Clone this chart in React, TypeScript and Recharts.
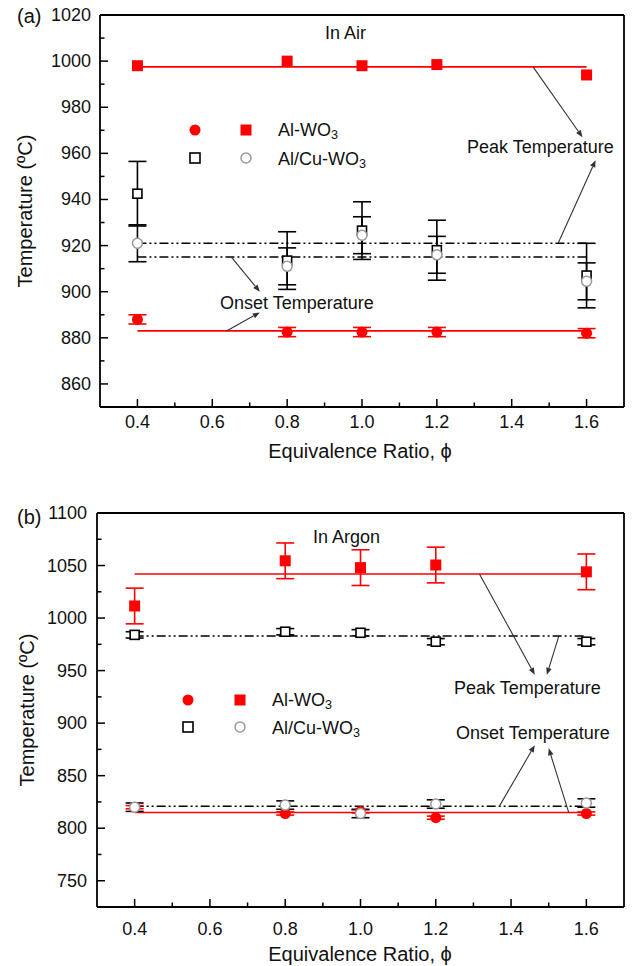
import { ComposedChart, Scatter, Line, XAxis, YAxis, ErrorBar, ReferenceLine } from 'recharts';

const FONT = 'Arial, "Liberation Sans", Helvetica, sans-serif';

// equivalence ratio values shared by both panels
const phi = [0.4, 0.8, 1.0, 1.2, 1.6];
const fitPhi = [0.4, 1.6];
const xMajor = [0.4, 0.6, 0.8, 1.0, 1.2, 1.4, 1.6];
const xMinor = [0.5, 0.7, 0.9, 1.1, 1.3, 1.5];

// (a) In Air
const airYMajor = [860, 880, 900, 920, 940, 960, 980, 1000, 1020];
const airYMinor = [870, 890, 910, 930, 950, 970, 990, 1010];
const airPeakAl = [998, 1000, 998, 998.5, 994];
const airPeakAlErr = [0, 0, 0, 0, 0];
const airOnsetAl = [888, 882.5, 882.5, 882.5, 882];
const airOnsetAlErr = [2, 2, 2, 2, 2];
const airPeakAlCu = [942.5, 913.5, 926.5, 918, 907];
const airPeakAlCuErr = [14, 12.5, 12.5, 13, 14];
const airOnsetAlCu = [921, 911, 924.5, 916, 904.5];
const airOnsetAlCuErr = [8, 8, 8, 8, 8];
const airFits = { peakAl: 997.5, onsetAl: 883, peakAlCu: 921, onsetAlCu: 915 };

// (b) In Argon
const argYMajor = [750, 800, 850, 900, 950, 1000, 1050, 1100];
const argYMinor = [775, 825, 875, 925, 975, 1025, 1075];
const argPeakAl = [1011.5, 1054.5, 1048, 1050.5, 1044];
const argPeakAlErr = [17, 17, 17, 17, 17];
const argOnsetAl = [820, 814, 816, 810, 814];
const argOnsetAlErr = [1.5, 1.5, 1.5, 1.5, 1.5];
const argPeakAlCu = [984, 987, 986, 977.5, 977.5];
const argPeakAlCuErr = [3, 3, 3, 3, 3];
const argOnsetAlCu = [820, 822, 814, 823, 824];
const argOnsetAlCuErr = [4, 4, 4, 4, 4];
const argFits = { peakAl: 1042, onsetAl: 815, peakAlCu: 983, onsetAlCu: 821 };

// annotation arrows, in data coordinates [x1, y1, x2, y2]
const airArrows = [
  [1.457, 997.5, 1.589, 967],
  [1.524, 921, 1.624, 957],
  [0.651, 915, 0.727, 900],
  [0.638, 883, 0.727, 891],
];
const argArrows = [
  [1.316, 1042, 1.463, 946],
  [1.527, 983, 1.495, 946],
  [1.369, 821, 1.463, 879],
  [1.553, 815, 1.5, 876],
];

const pts = (ys: number[], errs: number[]) => phi.map((x, i) => ({ x, y: ys[i], err: errs[i] }));
const fit = (v: number) => fitPhi.map((x) => ({ x, y: v }));

const near = (list: number[], v: number) => list.some((t) => Math.abs(t - v) < 1e-6);

const RedSquare = (p: any) => <rect x={p.cx - 5.5} y={p.cy - 5.5} width={11} height={11} fill="#ff0000" />;
const RedCircle = (p: any) => <circle cx={p.cx} cy={p.cy} r={5.5} fill="#ff0000" />;
const OpenSquare = (p: any) => (
  <rect x={p.cx - 4.5} y={p.cy - 4.5} width={9} height={9} fill="#fff" stroke="#000" strokeWidth={1.6} />
);
const GrayCircle = (p: any) => (
  <circle cx={p.cx} cy={p.cy} r={5} fill="#fff" stroke="#999" strokeWidth={1.5} />
);

const Arrow = (p: any) => {
  const { x1, y1, x2, y2 } = p;
  const a = Math.atan2(y2 - y1, x2 - x1);
  const L = 7;
  const W = 2.8;
  const bx = x2 - L * Math.cos(a);
  const by = y2 - L * Math.sin(a);
  const s = Math.sin(a);
  const c = Math.cos(a);
  return (
    <g>
      <line x1={x1} y1={y1} x2={bx} y2={by} stroke="#333" strokeWidth={1.1} />
      <polygon points={`${x2},${y2} ${bx + W * s},${by - W * c} ${bx - W * s},${by + W * c}`} fill="#333" />
    </g>
  );
};

const xTick = (labelDy: number) => (props: any) => {
  const { x, y, payload } = props;
  const v = payload.value;
  const major = near(xMajor, v);
  return (
    <g>
      <line x1={x} x2={x} y1={y} y2={y - (major ? 8 : 4.5)} stroke="#000" strokeWidth={1.5} />
      {major ? (
        <text x={x} y={y + labelDy} textAnchor="middle" dominantBaseline="central" fontSize={18} fontFamily={FONT} fill="#111">
          {v.toFixed(1)}
        </text>
      ) : null}
    </g>
  );
};

const yTick = (majors: number[], gap: number) => (props: any) => {
  const { x, y, payload } = props;
  const v = payload.value;
  const major = near(majors, v);
  return (
    <g>
      <line x1={x} x2={x + (major ? 8 : 4.5)} y1={y} y2={y} stroke="#000" strokeWidth={1.5} />
      {major ? (
        <text x={x - gap} y={y} textAnchor="end" dominantBaseline="central" fontSize={18} fontFamily={FONT} fill="#111">
          {v}
        </text>
      ) : null}
    </g>
  );
};

const DASH = '9 3 2 3 2 3';

interface PanelProps {
  top: number;
  height: number;
  marginTop: number;
  yWidth: number;
  xHeight: number;
  domain: [number, number];
  yMajor: number[];
  yMinor: number[];
  xLabelDy: number;
  yGap: number;
  peakAl: number[];
  peakAlErr: number[];
  onsetAl: number[];
  onsetAlErr: number[];
  peakAlCu: number[];
  peakAlCuErr: number[];
  onsetAlCu: number[];
  onsetAlCuErr: number[];
  fits: { peakAl: number; onsetAl: number; peakAlCu: number; onsetAlCu: number };
  arrows: number[][];
}

function Panel(p: PanelProps) {
  const yTicks = [...p.yMajor, ...p.yMinor].sort((a, b) => a - b);
  const xTicks = [...xMajor, ...xMinor].sort((a, b) => a - b);
  return (
    <div style={{ position: 'absolute', left: 0, top: p.top }}>
      <ComposedChart width={634} height={p.height} margin={{ top: p.marginTop, right: 10, bottom: 0, left: 0 }}>
        <XAxis
          dataKey="x"
          type="number"
          domain={[0.3, 1.7]}
          allowDataOverflow
          ticks={xTicks}
          interval={0}
          height={p.xHeight}
          tickSize={0}
          tickMargin={0}
          tickLine={false}
          tick={xTick(p.xLabelDy)}
          axisLine={{ stroke: '#000', strokeWidth: 1.8 }}
        />
        <YAxis
          dataKey="y"
          type="number"
          domain={p.domain}
          allowDataOverflow
          ticks={yTicks}
          interval={0}
          width={p.yWidth}
          tickSize={0}
          tickMargin={0}
          tickLine={false}
          tick={yTick(p.yMajor, p.yGap)}
          axisLine={{ stroke: '#000', strokeWidth: 1.8 }}
        />
        <ReferenceLine y={p.domain[1]} stroke="#000" strokeWidth={1.8} />
        <ReferenceLine x={1.7} stroke="#000" strokeWidth={1.8} />

        <Line data={fit(p.fits.peakAl)} dataKey="y" stroke="#ff0000" strokeWidth={1.6} dot={false} isAnimationActive={false} />
        <Line data={fit(p.fits.onsetAl)} dataKey="y" stroke="#ff0000" strokeWidth={1.6} dot={false} isAnimationActive={false} />
        <Line data={fit(p.fits.peakAlCu)} dataKey="y" stroke="#000" strokeWidth={1.5} strokeDasharray={DASH} dot={false} isAnimationActive={false} />
        <Line data={fit(p.fits.onsetAlCu)} dataKey="y" stroke="#000" strokeWidth={1.5} strokeDasharray={DASH} dot={false} isAnimationActive={false} />

        <Scatter data={pts(p.peakAl, p.peakAlErr)} shape={RedSquare} isAnimationActive={false}>
          <ErrorBar dataKey="err" direction="y" width={9} stroke="#ff0000" strokeWidth={1.6} />
        </Scatter>
        <Scatter data={pts(p.onsetAl, p.onsetAlErr)} shape={RedCircle} isAnimationActive={false}>
          <ErrorBar dataKey="err" direction="y" width={9} stroke="#ff0000" strokeWidth={1.6} />
        </Scatter>
        <Scatter data={pts(p.peakAlCu, p.peakAlCuErr)} shape={OpenSquare} isAnimationActive={false}>
          <ErrorBar dataKey="err" direction="y" width={9} stroke="#000" strokeWidth={1.6} />
        </Scatter>
        <Scatter data={pts(p.onsetAlCu, p.onsetAlCuErr)} shape={GrayCircle} isAnimationActive={false}>
          <ErrorBar dataKey="err" direction="y" width={9} stroke="#000" strokeWidth={1.6} />
        </Scatter>

        {p.arrows.map((a, i) => (
          <ReferenceLine
            key={i}
            segment={[{ x: a[0], y: a[1] }, { x: a[2], y: a[3] }]}
            ifOverflow="visible"
            shape={Arrow}
          />
        ))}
      </ComposedChart>
    </div>
  );
}

const Txt = ({ left, top, size = 18, center = false, rotate = false, children }: any) => (
  <div
    style={{
      position: 'absolute',
      left,
      top,
      fontSize: size,
      lineHeight: 1,
      whiteSpace: 'nowrap',
      color: '#111',
      transform: rotate
        ? 'translate(-50%,-50%) rotate(-90deg)'
        : center
        ? 'translate(-50%,-50%)'
        : 'translateY(-50%)',
    }}
  >
    {children}
  </div>
);

const WO3 = (pre: string) => (
  <span>
    {pre}-WO<sub style={{ fontSize: '0.7em', verticalAlign: '-0.25em' }}>3</sub>
  </span>
);

const LegendMarks = ({ x1, x2, y1, y2 }: { x1: number; x2: number; y1: number; y2: number }) => (
  <svg style={{ position: 'absolute', left: 0, top: 0, overflow: 'visible' }} width={1} height={1}>
    <circle cx={x1} cy={y1} r={5.5} fill="#ff0000" />
    <rect x={x2 - 5.5} y={y1 - 5.5} width={11} height={11} fill="#ff0000" />
    <rect x={x1 - 5} y={y2 - 5} width={10} height={10} fill="#fff" stroke="#000" strokeWidth={1.6} />
    <circle cx={x2} cy={y2} r={5} fill="#fff" stroke="#999" strokeWidth={1.5} />
  </svg>
);

export default function App() {
  return (
    <div
      style={{
        position: 'absolute',
        left: 0,
        top: 0,
        width: 634,
        height: 966,
        background: '#fff',
        fontFamily: FONT,
        overflow: 'hidden',
      }}
    >
      <Panel
        top={0}
        height={480}
        marginTop={15}
        yWidth={100}
        xHeight={73}
        domain={[850, 1020]}
        yMajor={airYMajor}
        yMinor={airYMinor}
        xLabelDy={15}
        yGap={9}
        peakAl={airPeakAl}
        peakAlErr={airPeakAlErr}
        onsetAl={airOnsetAl}
        onsetAlErr={airOnsetAlErr}
        peakAlCu={airPeakAlCu}
        peakAlCuErr={airPeakAlCuErr}
        onsetAlCu={airOnsetAlCu}
        onsetAlCuErr={airOnsetAlCuErr}
        fits={airFits}
        arrows={airArrows}
      />
      <Panel
        top={480}
        height={486}
        marginTop={33}
        yWidth={97}
        xHeight={59}
        domain={[725, 1100]}
        yMajor={argYMajor}
        yMinor={argYMinor}
        xLabelDy={22}
        yGap={10}
        peakAl={argPeakAl}
        peakAlErr={argPeakAlErr}
        onsetAl={argOnsetAl}
        onsetAlErr={argOnsetAlErr}
        peakAlCu={argPeakAlCu}
        peakAlCuErr={argPeakAlCuErr}
        onsetAlCu={argOnsetAlCu}
        onsetAlCuErr={argOnsetAlCuErr}
        fits={argFits}
        arrows={argArrows}
      />

      {/* panel (a) text */}
      <Txt left={17} top={16} size={20}>(a)</Txt>
      <Txt left={325} top={33}>In Air</Txt>
      <LegendMarks x1={195} x2={246} y1={130} y2={158} />
      <Txt left={278} top={131}>{WO3('Al')}</Txt>
      <Txt left={278} top={160}>{WO3('Al/Cu')}</Txt>
      <Txt left={467} top={147}>Peak Temperature</Txt>
      <Txt left={220} top={303}>Onset Temperature</Txt>
      <Txt left={360} top={451} size={20} center>Equivalence Ratio, ϕ</Txt>
      <Txt left={25} top={211} size={20} rotate>Temperature (ºC)</Txt>

      {/* panel (b) text */}
      <Txt left={17} top={517} size={20}>(b)</Txt>
      <Txt left={313} top={537}>In Argon</Txt>
      <LegendMarks x1={188} x2={240} y1={700} y2={727} />
      <Txt left={272} top={701}>{WO3('Al')}</Txt>
      <Txt left={272} top={729}>{WO3('Al/Cu')}</Txt>
      <Txt left={454} top={688}>Peak Temperature</Txt>
      <Txt left={456} top={733}>Onset Temperature</Txt>
      <Txt left={360} top={954} size={20} center>Equivalence Ratio, ϕ</Txt>
      <Txt left={27} top={710} size={20} rotate>Temperature (ºC)</Txt>
    </div>
  );
}
